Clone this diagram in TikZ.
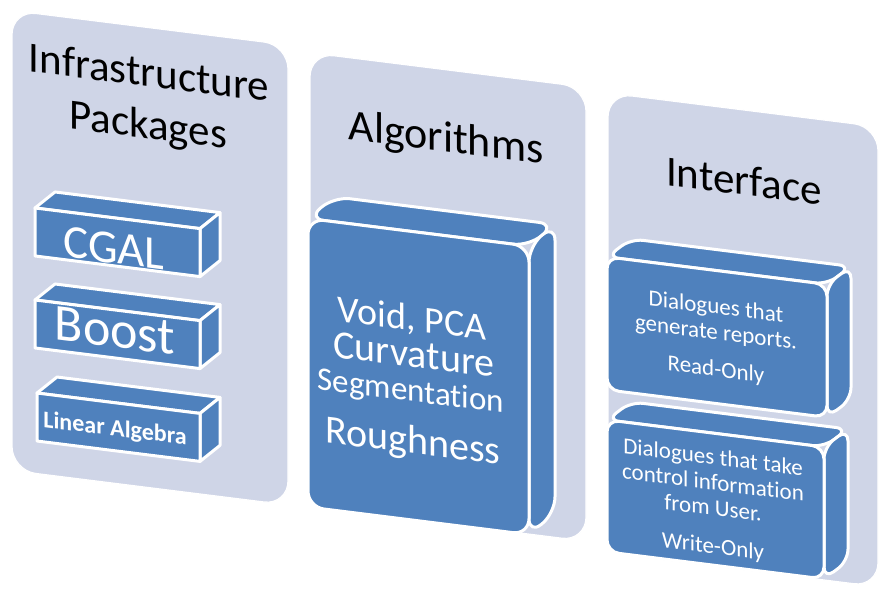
\documentclass[tikz,border=0pt]{standalone}
\usepackage{fontspec}
\setmainfont{Carlito}[Ligatures={NoCommon}]
\definecolor{panelfill}{HTML}{CFD5E7}
\definecolor{boxblue}{HTML}{4F81BD}
\tikzset{
  panel/.style={fill=panelfill, draw=white, line width=1.2pt, rounded corners=24pt},
  face/.style={fill=boxblue, draw=white, line width=3pt, line join=round},
  title/.style={anchor=base, text=black, inner sep=0pt, font=\fontsize{43}{50}\selectfont},
  boxtext/.style={anchor=base, text=white, inner sep=0pt},
  iftext/.style={boxtext, align=center, font=\fontsize{23}{25.5}\selectfont},
}
% #1 name, #2 x1, #3 u1, #4 x2, #5 u2, #6 dx, #7 du, #8 corner style
\newcommand\cuboid[8]{%
  \draw[face, #8] (#2,#3) -- ({#2+#6},{#3+#7}) -- ({#4+#6},{#3+#7}) -- (#4,#3) -- cycle;
  \draw[face, #8] (#4,#3) -- ({#4+#6},{#3+#7}) -- ({#4+#6},{#5+#7}) -- (#4,#5) -- cycle;
  \draw[face, #8] (#2,#3) rectangle (#4,#5);
  \coordinate (#1) at ({(#2+#4)/2},{(#3+#5)/2});
}
\begin{document}
\begin{tikzpicture}[x=1pt, y=-1pt]
\useasboundingbox (0,0) rectangle (879,589);
\begin{scope}[yslant=-0.125, transform shape]
  % panels
  \draw[panel] (12,9) rectangle (288,469);
  \coordinate (p1) at (150,239);
  \draw[panel] (310,14) rectangle (586,468);
  \coordinate (p2) at (448,241);
  \draw[panel] (608,17) rectangle (878,477);
  \coordinate (p3) at (743,247);

  % titles
  \node[title] (t1a) at (149,68) {Infrastructure};
  \node[title] (t1b) at (148,120) {Packages};
  \node[title, font=\fontsize{44}{50}\selectfont] (t2) at (446,96) {Algorithms};
  \node[title] (t3) at (744,102) {Interface};

  % infrastructure boxes
  \cuboid{cgal}{35}{203.6}{200}{251.6}{20}{-18.5}{sharp corners}
  \node[boxtext, font=\fontsize{47}{50}\selectfont] (cgaltext) at (114,249) {CGAL};
  \cuboid{boost}{35}{295.6}{200}{343.6}{20}{-18.5}{sharp corners}
  \node[boxtext, font=\fontsize{52}{55}\selectfont] (boosttext) at (115,333) {Boost};
  \cuboid{linalg}{37}{388.4}{200}{436.4}{20}{-18.5}{sharp corners}
  \node[boxtext, font=\bfseries\fontsize{24}{28}\selectfont] (linalgtext) at (115,421.6) {Linear Algebra};

  % algorithms box
  \cuboid{alg}{308}{180}{529}{468.5}{26}{-25}{rounded corners=16pt}
  \node[boxtext, font=\fontsize{38}{40}\selectfont] (a1) at (412,279) {Void, PCA};
  \node[boxtext, font=\fontsize{40}{40}\selectfont] (a2) at (414,315.5) {Curvature};
  \node[boxtext, font=\fontsize{33}{40}\selectfont] (a3) at (411,350) {Segmentation};
  \node[boxtext, font=\fontsize{40}{40}\selectfont] (a4) at (413,402) {Roughness};

  % interface boxes (base anchor = baseline of the last line)
  \cuboid{wo}{607}{344}{824}{476}{24}{-21}{rounded corners=12pt}
  \cuboid{ro}{607}{181}{827}{314}{24}{-21}{rounded corners=12pt}
  \node[iftext] (rotext) at (716,287) {Dialogues that\\generate reports.\\[11.5pt]Read-Only};
  \node[iftext] (wotext) at (713,464.5) {Dialogues that take\\control information\\from User.\\[12.5pt]Write-Only};
\end{scope}
\end{tikzpicture}
\end{document}
